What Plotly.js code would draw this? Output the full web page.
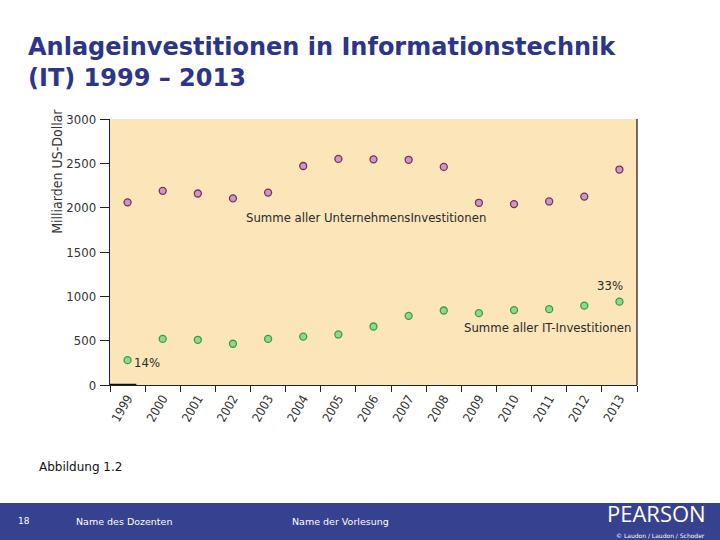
<!DOCTYPE html>
<html>
<head>
<meta charset="utf-8">
<script src="https://cdn.plot.ly/plotly-3.0.1.min.js"></script>
<style>html,body{margin:0;padding:0;background:#fff;}#chart{width:720px;height:540px;}</style>
</head>
<body>
<div id="chart"></div>
<script>
const years = ["1999","2000","2001","2002","2003","2004","2005","2006","2007","2008","2009","2010","2011","2012","2013"];
const totalInvest = [2060,2190,2160,2105,2170,2470,2550,2545,2540,2460,2055,2040,2070,2125,2430];
const itInvest = [280,520,510,465,520,545,570,660,780,840,810,845,855,895,940];
const yTicks = [0,500,1000,1500,2000,2500,3000];

const axisFont = {family: "'DejaVu Sans Condensed', Arial, sans-serif", size: 13, color: "#333"};
const noteFont = {family: "'DejaVu Sans Condensed', Arial, sans-serif", size: 13, color: "#2a2a2a"};

const traces = [
  {x: years, y: totalInvest, type: "scatter", mode: "markers", cliponaxis: false,
   marker: {size: 7, color: "#cf97c1", line: {color: "#6e3560", width: 1.3}}},
  {x: years, y: itInvest, type: "scatter", mode: "markers", cliponaxis: false,
   marker: {size: 7, color: "#8fd890", line: {color: "#3c9a48", width: 1.3}}}
];

const layout = {
  width: 720, height: 540,
  margin: {l: 110, r: 83, t: 119, b: 155},
  paper_bgcolor: "#ffffff",
  plot_bgcolor: "#fbe5b9",
  showlegend: false,
  font: axisFont,
  xaxis: {
    type: "category", tickson: "boundaries", ticks: "outside", ticklen: 6, tickcolor: "#222",
    tickangle: -60, tickfont: {family: axisFont.family, size: 12.5, color: "#333"}, showgrid: false, zeroline: false,
    showline: true, linecolor: "#222", linewidth: 1.3, mirror: false,
    range: [-0.5, 14.5]
  },
  yaxis: {
    range: [0, 3000], tickvals: yTicks, ticks: "outside", ticklen: 9, tickcolor: "#222",
    tickfont: axisFont, showgrid: false, zeroline: false, showline: true,
    linecolor: "#222", linewidth: 1.3, ticklabelstandoff: 1
  },
  shapes: [
    {type: "line", xref: "paper", yref: "paper", x0: 1, x1: 1, y0: 0, y1: 1, line: {color: "#222", width: 1.3}},
    {type: "line", xref: "paper", yref: "y", x0: 0, x1: 0.05, y0: 0, y1: 0, line: {color: "#111", width: 2.5}},
    {type: "rect", xref: "paper", yref: "paper", x0: -0.2087, x1: 1.1575, y0: -0.5827, y1: -0.4436,
     fillcolor: "#36418f", line: {width: 0}, layer: "above"}
  ],
  annotations: [
    {text: "<b>Anlageinvestitionen in Informationstechnik<br>(IT) 1999 – 2013</b>", xref: "paper", yref: "paper",
     x: -0.16, y: 1.332, xanchor: "left", yanchor: "top", align: "left", showarrow: false,
     font: {family: "'DejaVu Sans', Verdana, sans-serif", size: 24, color: "#2b3589"}},
    {text: "Milliarden US-Dollar", xref: "paper", yref: "paper", x: -0.102, y: 1.045, xanchor: "center", yanchor: "top",
     textangle: -90, showarrow: false, font: {family: axisFont.family, size: 14, color: "#333"}},
    {text: "Summe aller UnternehmensInvestitionen", xref: "paper", yref: "y", x: 0.254, y: 1884,
     xanchor: "left", yanchor: "middle", showarrow: false, font: noteFont},
    {text: "Summe aller IT-Investitionen", xref: "paper", yref: "y", x: 0.992, y: 643,
     xanchor: "right", yanchor: "middle", showarrow: false, font: noteFont},
    {text: "33%", xref: "paper", yref: "y", x: 0.977, y: 1117,
     xanchor: "right", yanchor: "middle", showarrow: false, font: noteFont},
    {text: "14%", xref: "paper", yref: "y", x: 0.042, y: 250,
     xanchor: "left", yanchor: "middle", showarrow: false, font: noteFont},
    {text: "Abbildung 1.2", xref: "paper", yref: "paper", x: -0.139, y: -0.308, xanchor: "left", yanchor: "middle",
     showarrow: false, font: {family: "'DejaVu Sans', Verdana, sans-serif", size: 12, color: "#111"}},
    {text: "18", xref: "paper", yref: "paper", x: -0.178, y: -0.513, xanchor: "left", yanchor: "middle",
     showarrow: false, font: {family: "'DejaVu Sans', Verdana, sans-serif", size: 9, color: "#fff"}},
    {text: "Name des Dozenten", xref: "paper", yref: "paper", x: -0.069, y: -0.513, xanchor: "left", yanchor: "middle",
     showarrow: false, font: {family: "'DejaVu Sans', Verdana, sans-serif", size: 9.5, color: "#fff"}},
    {text: "Name der Vorlesung", xref: "paper", yref: "paper", x: 0.342, y: -0.513, xanchor: "left", yanchor: "middle",
     showarrow: false, font: {family: "'DejaVu Sans', Verdana, sans-serif", size: 9.5, color: "#fff"}},
    {text: "PEARSON", xref: "paper", yref: "paper", x: 1.134, y: -0.483, xanchor: "right", yanchor: "middle",
     showarrow: false, font: {family: "'Open Sans', 'DejaVu Sans', sans-serif", size: 22, color: "#fff"}},
    {text: "© Laudon / Laudon / Schoder", xref: "paper", yref: "paper", x: 1.132, y: -0.567, xanchor: "right", yanchor: "middle",
     showarrow: false, font: {family: "'DejaVu Sans', sans-serif", size: 6, color: "#fff"}}
  ]
};

Plotly.newPlot("chart", traces, layout, {displayModeBar: false, staticPlot: true});
</script>
</body>
</html>
